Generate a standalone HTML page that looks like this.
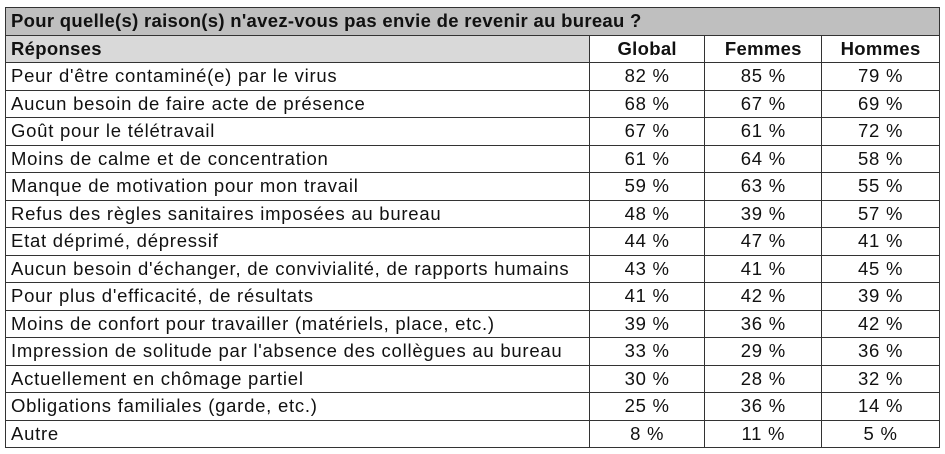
<!DOCTYPE html>
<html><head><meta charset="utf-8"><style>
body{margin:0;width:945px;height:454px;background:#fff;font-family:"Liberation Sans",sans-serif;}
table{position:absolute;left:5px;top:7px;width:935px;border-collapse:collapse;font-size:18.5px;letter-spacing:0.75px;color:#111;}
td{border:1.5px solid #333;height:26px;padding:0 0 0 5px;line-height:26px;white-space:nowrap;}
td.n{text-align:center;padding:0;}
tr.t td{background:#bfbfbf;font-weight:bold;letter-spacing:0.3px;}
tr.h td{font-weight:bold;letter-spacing:0.3px;}
tr.h td.r{background:#d9d9d9;}
tr{height:27.5px;}
</style></head><body>
<table>
<colgroup><col style="width:584px"><col style="width:116px"><col style="width:117px"><col style="width:118px"></colgroup>
<tr class="t"><td colspan="4">Pour quelle(s) raison(s) n'avez-vous pas envie de revenir au bureau ?</td></tr>
<tr class="h"><td class="r">Réponses</td><td class="n">Global</td><td class="n">Femmes</td><td class="n">Hommes</td></tr>
<tr><td>Peur d'être contaminé(e) par le virus</td><td class="n">82 %</td><td class="n">85 %</td><td class="n">79 %</td></tr>
<tr><td>Aucun besoin de faire acte de présence</td><td class="n">68 %</td><td class="n">67 %</td><td class="n">69 %</td></tr>
<tr><td>Goût pour le télétravail</td><td class="n">67 %</td><td class="n">61 %</td><td class="n">72 %</td></tr>
<tr><td>Moins de calme et de concentration</td><td class="n">61 %</td><td class="n">64 %</td><td class="n">58 %</td></tr>
<tr><td>Manque de motivation pour mon travail</td><td class="n">59 %</td><td class="n">63 %</td><td class="n">55 %</td></tr>
<tr><td>Refus des règles sanitaires imposées au bureau</td><td class="n">48 %</td><td class="n">39 %</td><td class="n">57 %</td></tr>
<tr><td>Etat déprimé, dépressif</td><td class="n">44 %</td><td class="n">47 %</td><td class="n">41 %</td></tr>
<tr><td>Aucun besoin d'échanger, de convivialité, de rapports humains</td><td class="n">43 %</td><td class="n">41 %</td><td class="n">45 %</td></tr>
<tr><td>Pour plus d'efficacité, de résultats</td><td class="n">41 %</td><td class="n">42 %</td><td class="n">39 %</td></tr>
<tr><td>Moins de confort pour travailler (matériels, place, etc.)</td><td class="n">39 %</td><td class="n">36 %</td><td class="n">42 %</td></tr>
<tr><td>Impression de solitude par l'absence des collègues au bureau</td><td class="n">33 %</td><td class="n">29 %</td><td class="n">36 %</td></tr>
<tr><td>Actuellement en chômage partiel</td><td class="n">30 %</td><td class="n">28 %</td><td class="n">32 %</td></tr>
<tr><td>Obligations familiales (garde, etc.)</td><td class="n">25 %</td><td class="n">36 %</td><td class="n">14 %</td></tr>
<tr><td>Autre</td><td class="n">8 %</td><td class="n">11 %</td><td class="n">5 %</td></tr>
</table>
</body></html>
